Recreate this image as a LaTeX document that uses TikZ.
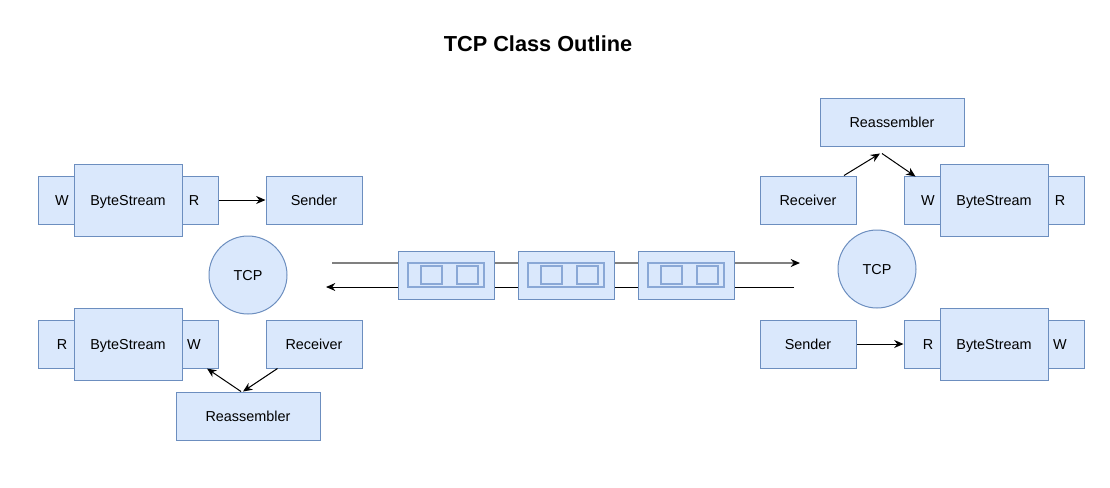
\documentclass[tikz,border=0pt]{standalone}
\usepackage{fontspec}
\setmainfont{Liberation Sans}
\usetikzlibrary{arrows.meta}
\definecolor{boxfill}{HTML}{DAE8FC}
\definecolor{boxline}{HTML}{6C8EBF}
\definecolor{innerline}{HTML}{8AA8D6}
\definecolor{wiregray}{HTML}{808080}
\tikzset{
  >={Stealth[length=7pt,width=6pt]},
  every node/.style={font=\fontsize{10.8}{12}\selectfont, text height=0.85em, text depth=0em},
  box/.style={draw=boxline, fill=boxfill, inner sep=0pt, minimum width=72pt, minimum height=36pt},
  port/.style={box, minimum width=36pt},
  stream/.style={box, minimum width=81pt, minimum height=54pt},
  wide/.style={box, minimum width=108pt},
  host/.style={circle, draw=boxline, fill=boxfill, minimum size=58.5pt, inner sep=0pt},
  packet/.style={box, minimum width=72pt},
  slot/.style={draw=innerline, fill=boxfill, line width=1pt, inner sep=0pt, minimum width=57pt, minimum height=18pt},
  byte/.style={draw=innerline, fill=boxfill, line width=1pt, inner sep=0pt, minimum width=15.75pt, minimum height=13.5pt}
}
\begin{document}
\begin{tikzpicture}[x=0.75pt,y=-0.75pt,line width=0.75pt]
      \useasboundingbox (0, 0) rectangle (1110, 487);
      \node[font=\bfseries\fontsize{16.3}{19}\selectfont] (title) at (538, 45.5) {TCP Class Outline};

      % left host
      \node[port] (lw_1) at (62, 200) {W};
      \node[port] (lr_1) at (194, 200) {R};
      \node[stream] (lbs_1) at (128, 200) {ByteStream};
      \node[box] (lsend) at (314, 200) {Sender};
      \node[host] (ltcp) at (248, 275) {TCP};
      \node[port] (lr_2) at (62, 344) {R};
      \node[port] (lw_2) at (194, 344) {W};
      \node[stream] (lbs_2) at (128, 344) {ByteStream};
      \node[box] (lrecv) at (314, 344) {Receiver};
      \node[wide] (lreasm) at (248, 416) {Reassembler};

      % right host
      \node[wide] (rreasm) at (892, 122) {Reassembler};
      \node[box] (rrecv) at (808, 200) {Receiver};
      \node[port] (rw_1) at (928, 200) {W};
      \node[port] (rr_1) at (1060, 200) {R};
      \node[stream] (rbs_1) at (994, 200) {ByteStream};
      \node[host] (rtcp) at (877, 269) {TCP};
      \node[box] (rsend) at (808, 344) {Sender};
      \node[port] (rr_2) at (928, 344) {R};
      \node[port] (rw_2) at (1060, 344) {W};
      \node[stream] (rbs_2) at (994, 344) {ByteStream};

      % wire
      \coordinate (out_a) at (332, 263);
      \coordinate (out_b) at (800, 263);
      \coordinate (in_a) at (794, 287);
      \coordinate (in_b) at (326, 287);
      \draw[wiregray, line width=1pt, -{Stealth[length=7pt,width=6pt,black]}] (out_a) -- (out_b);
      \draw[->] (in_a) -- (in_b);

      % segments
      \foreach \n/\x in {1/446, 2/566, 3/686} {
        \node[packet] (seg_\n) at (\x, 275) {};
        \node[slot] (slot_\n) at (seg_\n.center) {};
        \node[byte] at ([xshift=-10.875pt]slot_\n.center) {};
        \node[byte] at ([xshift=16.125pt]slot_\n.center) {};
      }

      \path[->] (lr_1) edge (lsend)
      ([xshift=9pt]lrecv.south west) edge ([xshift=-3.75pt]lreasm.north)
      ([xshift=-5.25pt]lreasm.north) edge ([xshift=9.75pt]lw_2.south)
      ([xshift=27pt]rrecv.north) edge ([shift={(-12,7)}]rreasm.south)
      ([shift={(-10,7)}]rreasm.south) edge ([shift={(12,1)}]rw_1.north west)
      (rsend) edge (rr_2);
    \end{tikzpicture}
\end{document}
